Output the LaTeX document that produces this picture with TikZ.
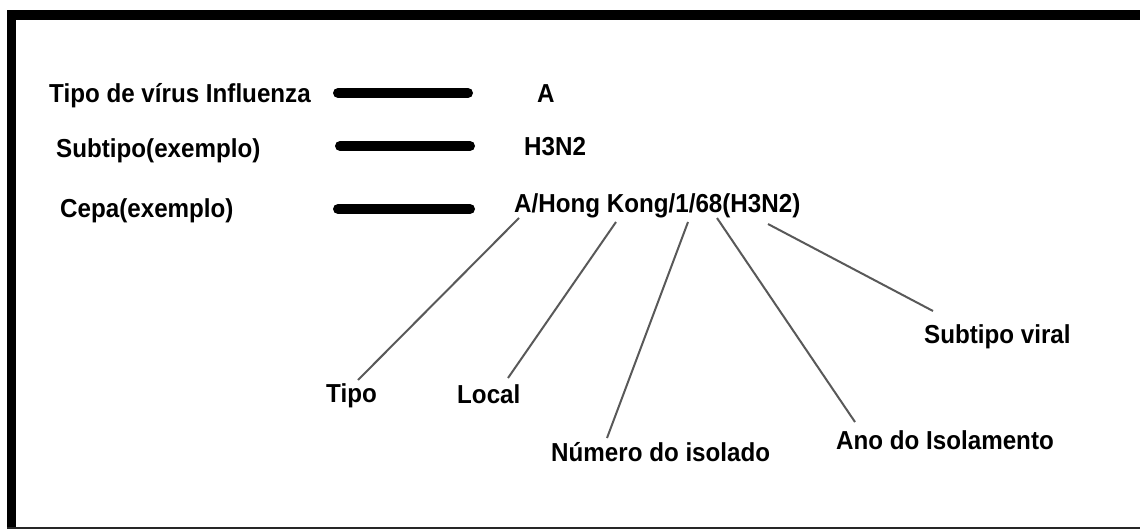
\documentclass[tikz,border=0pt]{standalone}
\usepackage{fontspec}
\setmainfont{Liberation Sans}[FakeStretch=0.93]
\begin{document}
\begin{tikzpicture}[x=1pt,y=-1pt,
  lbl/.style={anchor=base west,inner sep=0pt,font=\fontsize{26}{30}\selectfont\bfseries},
  thickbar/.style={line width=10pt,line cap=round,black},
  pointer/.style={line width=2pt,draw=black!65}]
\useasboundingbox (0,0) rectangle (1140,530);
% frame
\fill[black] (7,10) rectangle (1140,20);
\fill[black] (7,10) rectangle (16,528);
\draw[line width=2pt,black!85] (7,528) -- (1140,528);
% left labels
\node[lbl] (tipovirus) at (49,102) {Tipo de vírus Influenza};
\node[lbl] (subtipo) at (56,157) {Subtipo(exemplo)};
\node[lbl] (cepa) at (60,217) {Cepa(exemplo)};
% right values
\node[lbl] (valA) at (537,102) {A};
\node[lbl] (valH) at (524,155) {H3N2};
\node[lbl] (strain) at (514,212) {A/Hong Kong/1/68(H3N2)};
% thick bars
\coordinate (b1s) at (338,93);  \coordinate (b1e) at (468,93);
\coordinate (b2s) at (340,146); \coordinate (b2e) at (470,146);
\coordinate (b3s) at (338,209); \coordinate (b3e) at (470,209);
\draw[thickbar] (b1s) -- (b1e);
\draw[thickbar] (b2s) -- (b2e);
\draw[thickbar] (b3s) -- (b3e);
% bottom labels
\node[lbl] (tipo) at (326,402) {Tipo};
\node[lbl] (local) at (457,403) {Local};
\node[lbl] (numero) at (551,461) {Número do isolado};
\node[lbl] (ano) at (836,449) {Ano do Isolamento};
\node[lbl] (subviral) at (924,343) {Subtipo viral};
% pointer ends
\coordinate (p1) at (519,218); \coordinate (q1) at (358,380);
\coordinate (p2) at (616,222); \coordinate (q2) at (508,378);
\coordinate (p3) at (688,222); \coordinate (q3) at (607,438);
\coordinate (p4) at (717,218); \coordinate (q4) at (855,422);
\coordinate (p5) at (768,224); \coordinate (q5) at (933,311);
\draw[pointer] (p1) -- (q1);
\draw[pointer] (p2) -- (q2);
\draw[pointer] (p3) -- (q3);
\draw[pointer] (p4) -- (q4);
\draw[pointer] (p5) -- (q5);
\end{tikzpicture}
\end{document}
